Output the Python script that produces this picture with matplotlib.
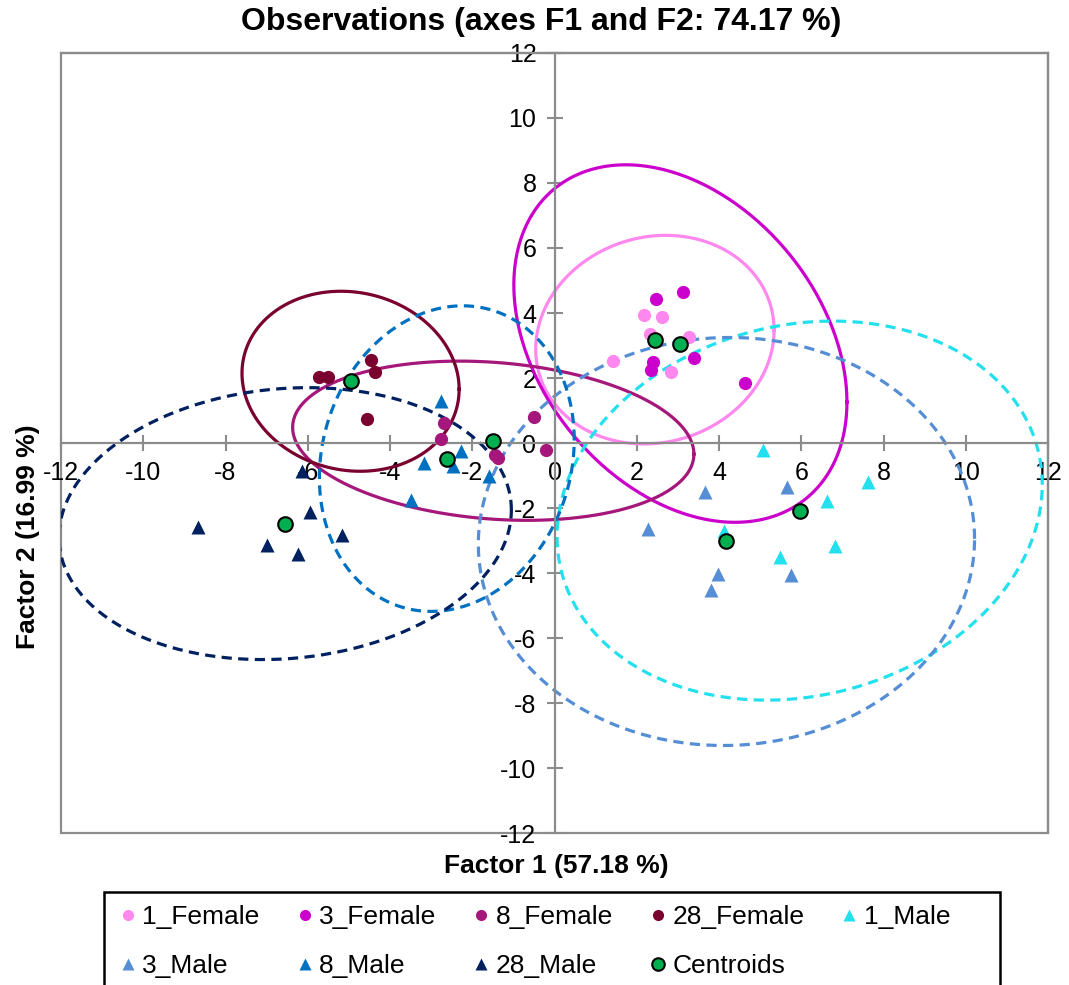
import numpy as np
import matplotlib
matplotlib.use("Agg")
import matplotlib.pyplot as plt
from matplotlib.lines import Line2D
from matplotlib.patches import Rectangle

plt.rcParams['font.family'] = ['Liberation Sans', 'DejaVu Sans']
plt.rcParams['axes.unicode_minus'] = False

# groups: observations on factor 1 / factor 2
groups = ['1_Female', '3_Female', '8_Female', '28_Female',
          '1_Male', '3_Male', '8_Male', '28_Male']

f1 = {
    '1_Female': [2.17, 2.61, 2.32, 3.28, 1.41, 2.83],
    '3_Female': [2.47, 3.12, 2.39, 2.35, 3.39, 4.63],
    '8_Female': [-2.69, -2.77, -1.45, -1.38, -0.50, -0.21],
    '28_Female': [-5.73, -5.52, -4.47, -4.37, -4.57],
    '1_Male': [5.06, 7.61, 6.63, 6.82, 5.49, 4.13],
    '3_Male': [3.65, 5.65, 2.27, 3.97, 3.81, 5.76],
    '8_Male': [-2.75, -3.17, -2.27, -2.47, -3.48, -1.60],
    '28_Male': [-8.68, -7.00, -6.25, -5.95, -5.18, -6.13],
}
f2 = {
    '1_Female': [3.93, 3.87, 3.36, 3.25, 2.51, 2.18],
    '3_Female': [4.44, 4.66, 2.48, 2.26, 2.62, 1.85],
    '8_Female': [0.62, 0.13, -0.38, -0.46, 0.80, -0.23],
    '28_Female': [2.03, 2.03, 2.54, 2.18, 0.75],
    '1_Male': [-0.21, -1.20, -1.78, -3.18, -3.51, -2.72],
    '3_Male': [-1.52, -1.35, -2.64, -4.03, -4.51, -4.05],
    '8_Male': [1.30, -0.60, -0.26, -0.72, -1.75, -1.00],
    '28_Male': [-2.58, -3.15, -3.42, -2.11, -2.82, -0.87],
}

# centroids, same order as groups
cent_x = [2.44, 3.06, -1.49, -4.96, 5.96, 4.18, -2.62, -6.55]
cent_y = [3.18, 3.06, 0.07, 1.90, -2.08, -3.03, -0.48, -2.48]

# confidence ellipse shape (xx, yy, xy terms)
ell_xx = [8.4, 16.4, 23.8, 6.97, 34.8, 36.4, 9.6, 30.25]
ell_yy = [10.3, 30.25, 6.0, 7.67, 34.0, 39.4, 22.1, 17.5]
ell_xy = [0.85, -7.3, -2.0, -0.65, 4.7, 0.5, 1.8, 2.3]

colors = {
    '1_Female': '#FF88EE', '3_Female': '#CC00CC', '8_Female': '#A5177A',
    '28_Female': '#7A0030', '1_Male': '#22E0EE', '3_Male': '#558ED5',
    '8_Male': '#0070C0', '28_Male': '#002060',
}
green = '#00B050'
gray = '#8C8C8C'

fig = plt.figure(figsize=(10.69, 9.85), dpi=100)
ax = fig.add_axes([0.0571, 0.1543, 0.9233, 0.7919])

t = np.linspace(0, 2 * np.pi, 400)
for i, g in enumerate(groups):
    M = np.array([[ell_xx[i], ell_xy[i]], [ell_xy[i], ell_yy[i]]])
    L = np.linalg.cholesky(M)
    pts = L @ np.vstack([np.cos(t), np.sin(t)])
    ls = '-' if 'Female' in g else (0, (3.2, 2))
    ax.plot(pts[0] + cent_x[i], pts[1] + cent_y[i], color=colors[g],
            lw=2.3, ls=ls, zorder=2)

for g in groups:
    mk = 'o' if 'Female' in g else '^'
    ax.plot(f1[g], f2[g], ls='', marker=mk, ms=9.5 if mk == 'o' else 10,
            color=colors[g], mec='none', zorder=3)

ax.plot(cent_x, cent_y, ls='', marker='o', ms=10.5, mfc=green, mec='black',
        mew=1.5, zorder=4)

ax.set_xlim(-12, 12)
ax.set_ylim(-12, 12)
ax.set_xticks(np.arange(-12, 13, 2))
ax.set_yticks(np.arange(-12, 13, 2))

for s in ['left', 'bottom']:
    ax.spines[s].set_position(('data', 0))
for s in ax.spines.values():
    s.set_color(gray)
    s.set_linewidth(1.6)
ax.add_patch(Rectangle((0, 0), 1, 1, transform=ax.transAxes, fill=False,
                       edgecolor=gray, lw=1.6, clip_on=False, zorder=0))
ax.tick_params(direction='inout', length=12, width=1.5, color=gray,
               labelsize=18, pad=7)
ax.set_facecolor('white')

fig.text(0.506, 0.978, 'Observations (axes F1 and F2: 74.17 %)',
         ha='center', va='center', fontsize=23, fontweight='bold')
fig.text(0.520, 0.121, 'Factor 1 (57.18 %)', ha='center', va='center',
         fontsize=19, fontweight='bold')
fig.text(0.026, 0.455, 'Factor 2 (16.99 %)', ha='center', va='center',
         rotation=90, fontsize=19, fontweight='bold')

# legend laid out row by row (matplotlib fills columns first)
order = ['1_Female', '3_Male', '3_Female', '8_Male', '8_Female', '28_Male',
         '28_Female', 'Centroids', '1_Male']
handles = []
for name in order:
    if name == 'Centroids':
        h = Line2D([], [], ls='', marker='o', ms=9, mfc=green, mec='black',
                   mew=1.5)
    else:
        mk = 'o' if 'Female' in name else '^'
        h = Line2D([], [], ls='', marker=mk, ms=8, color=colors[name],
                   mec='none')
    handles.append(h)

leg = fig.legend(handles, order, ncol=5, loc='upper left',
                 bbox_to_anchor=(120 / 1069, 1 - 905 / 985),
                 fontsize=19, frameon=False, borderpad=0,
                 labelspacing=0.95, handlelength=0.6, handletextpad=0.25,
                 columnspacing=1.4, borderaxespad=0)

# legend box runs past the bottom edge of the figure
fig.patches.append(Rectangle((104 / 1069, -0.01), 896 / 1069,
                             1.01 - 892 / 985, transform=fig.transFigure,
                             fill=False, edgecolor='black', lw=1.8))

fig.savefig('out.png', dpi=100)
